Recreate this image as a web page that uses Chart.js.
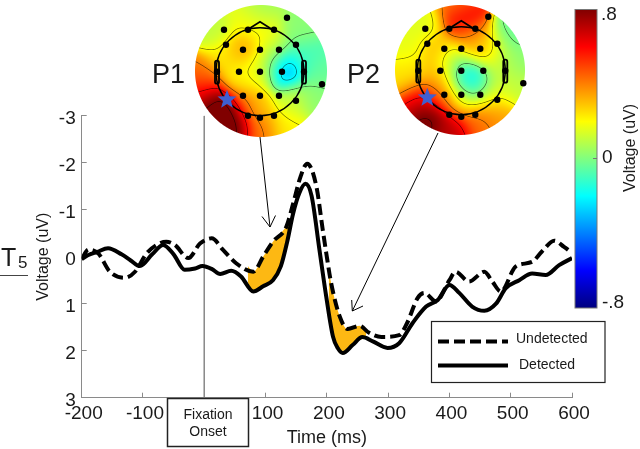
<!DOCTYPE html>
<html>
<head>
<meta charset="utf-8">
<title>Fixation ERP</title>
<style>
html, body { margin: 0; padding: 0; background: #fff; }
#wrap { position: relative; width: 640px; height: 449px; }
</style>
<script src="https://cdn.jsdelivr.net/npm/chart.js@4"></script>
</head>
<body>
<div id="wrap"><canvas id="erpChart" width="640" height="449"></canvas></div>
<script>
// values
const detectedTime = [-200, -190, -175, -157, -135, -120, -105, -85, -67, -50, -32, -15, -3, 12, 26, 44, 60, 80, 96, 112, 125, 135, 145, 155, 165, 175, 188, 199, 210, 218, 226, 242, 258, 275, 299, 318, 340, 362, 381, 400, 416, 437, 457, 476, 492, 514, 535, 557, 579, 600];
const detectedValues = [0.05, -0.03, -0.1, -0.18, -0.05, 0.08, 0.2, -0.05, -0.25, -0.05, 0.28, 0.25, 0.2, 0.26, 0.37, 0.3, 0.42, 0.74, 0.63, 0.5, 0.2, -0.3, -0.92, -1.35, -1.55, -1.3, -0.14, 0.85, 1.7, 1.95, 2.05, 1.88, 1.71, 1.8, 1.94, 1.84, 1.41, 1.06, 0.92, 0.6, 0.77, 1.06, 1.15, 1.0, 0.67, 0.5, 0.36, 0.39, 0.18, 0.03];
const undetectedTime = [-200, -189, -173, -154, -130, -113, -94, -78, -62, -48, -26, -7, 12, 31, 52, 80, 96, 112, 134, 145, 157, 168, 183, 193, 199, 207, 221, 234, 253, 269, 289, 318, 331, 348, 359, 378, 400, 410, 432, 457, 470, 484, 508, 535, 551, 571, 587, 600];
const undetectedValues = [0.05, -0.15, -0.07, 0.32, 0.45, 0.32, -0.07, -0.25, -0.32, -0.25, 0.03, -0.28, -0.39, -0.14, 0.14, 0.32, 0, -0.32, -0.64, -1.13, -1.7, -1.98, -1.49, -0.6, -0.08, 0.56, 1.27, 1.54, 1.47, 1.62, 1.71, 1.67, 1.41, 0.88, 0.77, 0.95, 0.5, 0.32, 0.53, 0.32, 0.53, 0.74, 0.21, 0.11, -0.11, -0.34, -0.21, -0.08];
const shadeP1Time = [71, 80, 96, 112, 125, 134, 139];
const shadeP1Upper = [0.2, 0.32, 0, -0.32, -0.5, -0.64, -0.72];
const shadeP1Lower = [0.55, 0.74, 0.63, 0.5, 0.2, -0.25, -0.6];
const shadeP2Time = [203, 207, 221, 234, 253, 264];
const shadeP2Upper = [0.25, 0.56, 1.27, 1.54, 1.47, 1.6];
const shadeP2Lower = [1.15, 1.45, 2.0, 1.99, 1.78, 1.73];
const onsetTime = [0, 0];
const onsetValues = [-3, 3];
const xTicks = [-200, -100, 0, 100, 200, 300, 400, 500, 600];
const yTicks = [-3, -2, -1, 0, 1, 2, 3];

// scalp map samples: dx, dy from head centre, voltage
const fieldP1 = [[22,0,-.36],[-33,40,.95],[-50,35,.85],[-28,55,.85],[-60,20,.6],[0,58,.42],[25,55,.22],[-58,5,.4],[-35,-15,.22],[-17,-22,.38],[0,-40,.2],[0,-62,.05],[40,-40,.02],[-45,-40,.1],[-15,-50,.18],[0,0,.12],[-20,10,.22],[-5,35,.25],[-15,30,.42],[30,30,.12],[55,25,.02],[60,0,-.04],[45,-15,-.1],[10,-20,.1],[-10,5,.2]];
const fieldP2 = [[3,-50,.72],[-3,-63,.38],[10,-35,.4],[-35,-45,.15],[-55,-20,.16],[50,-35,-.04],[55,-10,.02],[-50,0,.24],[-58,10,.24],[-45,30,.65],[-30,45,.88],[-10,58,.7],[20,50,.44],[40,45,.35],[55,20,.1],[40,0,.12],[5,5,-.22],[15,15,-.22],[-5,-10,.03],[-20,5,.32],[-20,-20,.32],[15,-25,.32],[30,-20,.22],[0,30,.22],[30,25,.2],[-20,25,.4]];
const electrodes = [[27,-54],[-36,-42],[-12,-42],[14,-42],[-34,-27],[36,-27],[-17,-22],[0,-22],[19,-22],[-21,0],[0,0],[22,0],[-43,0],[44,0],[62,12.5],[-17,24],[0,24],[19,24],[36,29],[-12,44],[0,46],[14,44]];

function pairs(xs, ys) {
    return xs.map((x, i) => ({ x: x, y: ys[i] }));
}

function jet(t) {
    const c = v => Math.max(0, Math.min(1, v)) * 255;
    return [c(1.5 - Math.abs(4 * t - 3)), c(1.5 - Math.abs(4 * t - 2)), c(1.5 - Math.abs(4 * t - 1))];
}

// smooth the samples into a disc image, thin contour lines at fixed steps
function buildHead(field, r) {
    const size = r * 2 + 2;
    const off = document.createElement('canvas');
    off.width = off.height = size;
    const octx = off.getContext('2d');
    const img = octx.createImageData(size, size);
    const at = (dx, dy) => {
        let sum = 0, w = 0;
        field.forEach(f => {
            const d2 = (dx - f[0]) ** 2 + (dy - f[1]) ** 2;
            const k = Math.exp(-d2 / (2 * 12 * 12));
            sum += k * f[2];
            w += k;
        });
        return sum / (w || 1);
    };
    const step = 0.2;
    for (let j = 0; j < size; j++) {
        for (let i = 0; i < size; i++) {
            const dx = i - r - 0.5, dy = j - r - 0.5;
            const dist = Math.hypot(dx, dy);
            const v = at(dx, dy);
            const rgb = jet((Math.max(-.8, Math.min(.8, v)) + .8) / 1.6);
            const slope = Math.hypot(at(dx + 1, dy) - v, at(dx, dy + 1) - v) || 1e-6;
            const gap = Math.abs(v - Math.round(v / step) * step) / slope;
            const line = Math.max(0, 1 - gap / 0.8) * 0.5;
            const p = (j * size + i) * 4;
            img.data[p] = rgb[0] * (1 - line);
            img.data[p + 1] = rgb[1] * (1 - line);
            img.data[p + 2] = rgb[2] * (1 - line);
            img.data[p + 3] = Math.max(0, Math.min(1, r - dist + 0.5)) * 255;
        }
    }
    octx.putImageData(img, 0, 0);
    return off;
}

const headP1 = { cx: 261, cy: 71, ix: 260, iy: 71.7, star: [-33, 28], image: buildHead(fieldP1, 66) };
const headP2 = { cx: 460, cy: 70, ix: 461.3, iy: 70.7, star: [-34, 27], image: buildHead(fieldP2, 65) };

function star(ctx, x, y, r) {
    ctx.beginPath();
    for (let i = 0; i < 10; i++) {
        const a = -Math.PI / 2 + i * Math.PI / 5;
        const rr = i % 2 ? r * 0.42 : r;
        ctx.lineTo(x + rr * Math.cos(a), y + rr * Math.sin(a));
    }
    ctx.closePath();
    ctx.fillStyle = '#3f5fd0';
    ctx.fill();
}

function drawHead(ctx, h) {
    ctx.drawImage(h.image, h.cx - h.image.width / 2, h.cy - h.image.height / 2);
    ctx.strokeStyle = '#000';
    ctx.lineWidth = 1.4;
    ctx.beginPath();
    ctx.arc(h.ix, h.iy, 44, 0, Math.PI * 2);
    ctx.stroke();
    // nose
    ctx.lineWidth = 1.8;
    ctx.beginPath();
    ctx.moveTo(h.ix - 11, h.iy - 43);
    ctx.lineTo(h.ix, h.iy - 50);
    ctx.lineTo(h.ix + 11, h.iy - 43);
    ctx.stroke();
    // ears
    [-43, 44].forEach(dx => {
        ctx.beginPath();
        ctx.roundRect(h.ix + dx - 2, h.iy - 11, 4, 23, 2);
        ctx.stroke();
    });
    ctx.fillStyle = '#000';
    electrodes.forEach(e => {
        ctx.beginPath();
        ctx.arc(h.ix + e[0], h.iy + e[1], 3.2, 0, Math.PI * 2);
        ctx.fill();
    });
    star(ctx, h.ix + h.star[0], h.iy + h.star[1], 10);
}

function arrow(ctx, x1, y1, x2, y2, ax, ay, bx, by) {
    ctx.strokeStyle = '#000';
    ctx.lineWidth = 1;
    ctx.beginPath();
    ctx.moveTo(x1, y1);
    ctx.lineTo(x2, y2);
    ctx.moveTo(ax, ay);
    ctx.lineTo(x2, y2);
    ctx.lineTo(bx, by);
    ctx.stroke();
}

function text(ctx, s, x, y, font, align) {
    ctx.font = font;
    ctx.textAlign = align || 'left';
    ctx.textBaseline = 'middle';
    ctx.fillStyle = '#1a1a1a';
    ctx.fillText(s, x, y);
}

const overlay = {
    id: 'overlay',
    afterDraw(chart) {
        const ctx = chart.ctx;
        const sans = '"Liberation Sans", Arial, sans-serif';
        ctx.save();

        // fixation box
        ctx.fillStyle = '#fff';
        ctx.strokeStyle = '#222';
        ctx.lineWidth = 1.5;
        ctx.fillRect(167.5, 398.5, 81, 48);
        ctx.strokeRect(167.5, 398.5, 81, 48);
        text(ctx, 'Fixation', 208, 415, '14px ' + sans, 'center');
        text(ctx, 'Onset', 208, 432, '14px ' + sans, 'center');

        // legend
        ctx.fillStyle = '#fff';
        ctx.strokeStyle = '#222';
        ctx.lineWidth = 1.2;
        ctx.fillRect(431.5, 321.5, 173.5, 61);
        ctx.strokeRect(431.5, 321.5, 173.5, 61);
        ctx.strokeStyle = '#000';
        ctx.lineWidth = 4;
        ctx.setLineDash([11, 5]);
        ctx.beginPath();
        ctx.moveTo(438, 341.5);
        ctx.lineTo(508, 341.5);
        ctx.stroke();
        ctx.setLineDash([]);
        ctx.beginPath();
        ctx.moveTo(438, 365.5);
        ctx.lineTo(508, 365.5);
        ctx.stroke();
        text(ctx, 'Undetected', 516, 339, '14px ' + sans);
        text(ctx, 'Detected', 519, 365, '14px ' + sans);

        // scalp maps
        drawHead(ctx, headP1);
        drawHead(ctx, headP2);
        text(ctx, 'P1', 152, 76, '27px ' + sans);
        text(ctx, 'P2', 347, 76, '27px ' + sans);
        arrow(ctx, 260, 137, 270, 227, 262, 216.5, 275.5, 215.5);
        arrow(ctx, 438, 133, 352.3, 311, 351.7, 300, 363, 306);

        // colour bar
        const barTop = 9.5, barH = 298.5;
        const grad = ctx.createLinearGradient(0, barTop, 0, barTop + barH);
        for (let i = 0; i <= 16; i++) {
            const rgb = jet(1 - i / 16);
            grad.addColorStop(i / 16, 'rgb(' + rgb.join(',') + ')');
        }
        ctx.fillStyle = grad;
        ctx.fillRect(575, barTop, 22, barH);
        ctx.strokeStyle = '#777';
        ctx.lineWidth = 1;
        ctx.strokeRect(575, barTop, 22, barH);
        ctx.beginPath();
        ctx.moveTo(593, 158.5);
        ctx.lineTo(597, 158.5);
        ctx.stroke();
        text(ctx, '.8', 601, 15, '19px ' + sans);
        text(ctx, '0', 602, 158, '19px ' + sans);
        text(ctx, '-.8', 602, 303, '19px ' + sans);
        ctx.save();
        ctx.translate(631, 148);
        ctx.rotate(-Math.PI / 2);
        text(ctx, 'Voltage (uV)', 0, 0, '16px ' + sans, 'center');
        ctx.restore();

        // electrode label
        text(ctx, 'T', 1, 259, '25px ' + sans);
        text(ctx, '5', 18, 263, '17px ' + sans);
        ctx.strokeStyle = '#444';
        ctx.lineWidth = 1;
        ctx.beginPath();
        ctx.moveTo(0, 275.5);
        ctx.lineTo(28, 275.5);
        ctx.stroke();

        ctx.restore();
    }
};

const ctx = document.getElementById('erpChart').getContext('2d');
const erpChart = new Chart(ctx, {
    type: 'line',
    data: {
        datasets: [
            { data: pairs(detectedTime, detectedValues), borderColor: '#000', borderWidth: 4, order: 1 },
            { data: pairs(undetectedTime, undetectedValues), borderColor: '#000', borderWidth: 4, borderDash: [11, 5], order: 2 },
            { data: pairs(onsetTime, onsetValues), borderColor: '#8a8a8a', borderWidth: 1, order: 5, cubicInterpolationMode: 'default', tension: 0 },
            { data: pairs(shadeP1Time, shadeP1Upper), borderWidth: 0, fill: '+1', backgroundColor: '#fdb813', order: 3 },
            { data: pairs(shadeP1Time, shadeP1Lower), borderWidth: 0, order: 3 },
            { data: pairs(shadeP2Time, shadeP2Upper), borderWidth: 0, fill: '+1', backgroundColor: '#fdb813', order: 3 },
            { data: pairs(shadeP2Time, shadeP2Lower), borderWidth: 0, order: 3 }
        ]
    },
    options: {
        responsive: false,
        animation: false,
        layout: { padding: { top: 115.7, right: 68 } },
        plugins: { legend: { display: false }, tooltip: { enabled: false } },
        elements: {
            point: { radius: 0 },
            line: { cubicInterpolationMode: 'monotone', borderCapStyle: 'butt' }
        },
        scales: {
            x: {
                type: 'linear',
                min: -200,
                max: 600,
                afterBuildTicks: scale => { scale.ticks = xTicks.map(v => ({ value: v })); },
                afterFit: scale => { scale.height = 51.3; },
                border: { color: '#8a8a8a' },
                grid: { drawOnChartArea: false, color: '#8a8a8a', tickLength: -5 },
                ticks: {
                    color: '#1a1a1a',
                    padding: 10,
                    labelOffset: 2,
                    maxRotation: 0,
                    font: { family: '"Liberation Sans", Arial, sans-serif', size: 19 },
                    callback: v => (v === 0 ? '' : String(v))
                },
                title: {
                    display: true,
                    text: 'Time (ms)',
                    color: '#1a1a1a',
                    padding: { top: 0, bottom: 0 },
                    font: { family: '"Liberation Sans", Arial, sans-serif', size: 18 }
                }
            },
            y: {
                reverse: true,
                min: -3,
                max: 3,
                afterBuildTicks: scale => { scale.ticks = yTicks.map(v => ({ value: v })); },
                afterFit: scale => { scale.width = 81.7; },
                border: { color: '#8a8a8a' },
                grid: { drawOnChartArea: false, color: '#8a8a8a', tickLength: -5 },
                ticks: {
                    color: '#1a1a1a',
                    padding: 11,
                    labelOffset: 3,
                    font: { family: '"Liberation Sans", Arial, sans-serif', size: 19 },
                    callback: v => String(v)
                },
                title: {
                    display: true,
                    text: 'Voltage (uV)',
                    color: '#1a1a1a',
                    padding: { top: 34, bottom: 0 },
                    font: { family: '"Liberation Sans", Arial, sans-serif', size: 16 }
                }
            }
        }
    },
    plugins: [overlay]
});
</script>
</body>
</html>
